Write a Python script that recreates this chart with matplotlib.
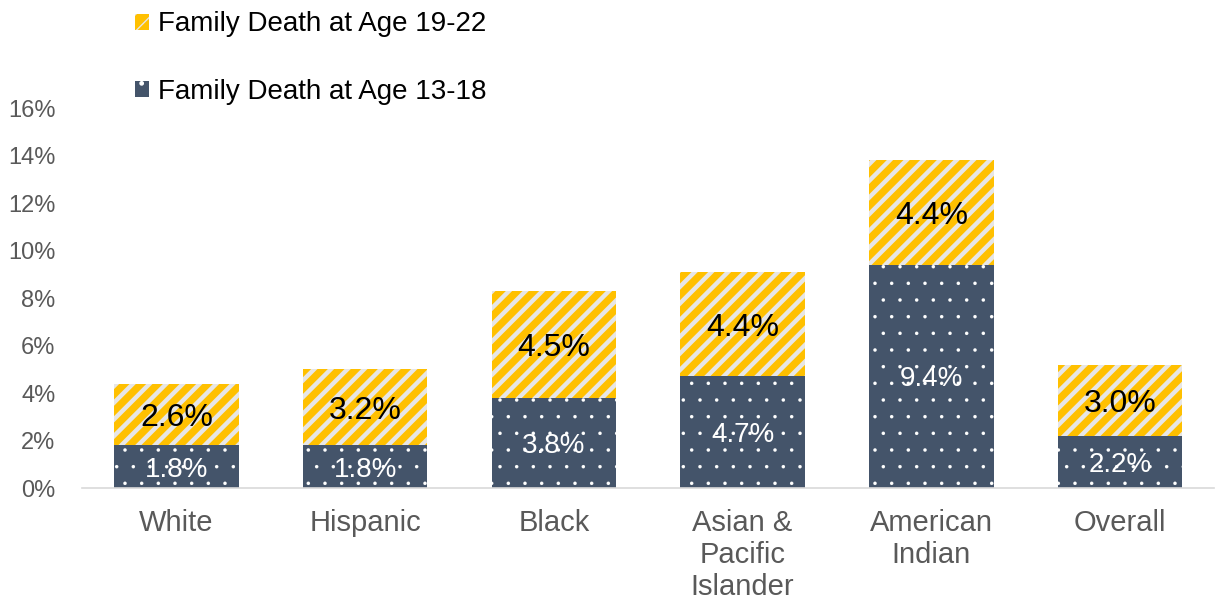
import matplotlib
matplotlib.use("Agg")
import matplotlib.pyplot as plt
import numpy as np
from matplotlib.patches import Patch

plt.rcParams['font.family'] = ['Liberation Sans', 'DejaVu Sans']

# data (percent)
groups = ["White", "Hispanic", "Black", "Asian &\nPacific\nIslander", "American\nIndian", "Overall"]
age_13_18 = [1.8, 1.8, 3.8, 4.7, 9.4, 2.2]
age_19_22 = [2.6, 3.2, 4.5, 4.4, 4.4, 3.0]

dark = "#44546A"
gold = "#FFC000"
stripe = "#E7E6E6"
grey_txt = "#595959"

fig = plt.figure(figsize=(12.15, 6.04), dpi=100)
ax = fig.add_axes([0.0675, 0.192, 0.932, 0.629])

x = np.arange(len(groups))
w = 0.66

b1 = ax.bar(x, age_13_18, w, color=dark, edgecolor="white", linewidth=0, hatch=".")
b2 = ax.bar(x, age_19_22, w, bottom=age_13_18, color=gold, edgecolor=stripe, linewidth=0, hatch="//")
for p in b1:
    p.set_hatch_linewidth(0.1)
for p in b2:
    p.set_hatch_linewidth(3.2)

l1 = ax.bar_label(b1, labels=[f"{v:.1f}%" for v in age_13_18], label_type="center",
                  color="white", fontsize=20)
l2 = ax.bar_label(b2, labels=[f"{v:.1f}%" for v in age_19_22], label_type="center",
                  color="black", fontsize=23)
for t in list(l1) + list(l2):
    t.set_va("center_baseline")

ax.set_xlim(-0.5, 5.5)
ax.set_ylim(0, 16)
ax.set_yticks(np.arange(0, 17, 2))
ax.set_yticklabels([f"{v}%" for v in range(0, 17, 2)])
ax.set_xticks(x)
ax.set_xticklabels(groups, linespacing=1.18)
ax.tick_params(axis="y", length=0, pad=19, labelsize=17, labelcolor=grey_txt)
ax.tick_params(axis="x", length=0, pad=15, labelsize=21, labelcolor=grey_txt)
for s in ["top", "right", "left"]:
    ax.spines[s].set_visible(False)
ax.spines["bottom"].set_color("#D9D9D9")
ax.spines["bottom"].set_linewidth(1.2)

h2 = Patch(facecolor=gold, edgecolor=stripe, linewidth=0, hatch="//")
h1 = Patch(facecolor=dark, edgecolor="white", linewidth=0, hatch=".")
h2.set_hatch_linewidth(2.0)
h1.set_hatch_linewidth(0.1)
fig.legend([h2, h1], ["Family Death at Age 19-22", "Family Death at Age 13-18"],
           loc="upper left", bbox_to_anchor=(0.1, 1.004), frameon=False, fontsize=20,
           handlelength=0.5, handleheight=0.5, handletextpad=0.3, labelspacing=1.5,
           borderaxespad=0.1)

fig.savefig("out.png", dpi=100)
